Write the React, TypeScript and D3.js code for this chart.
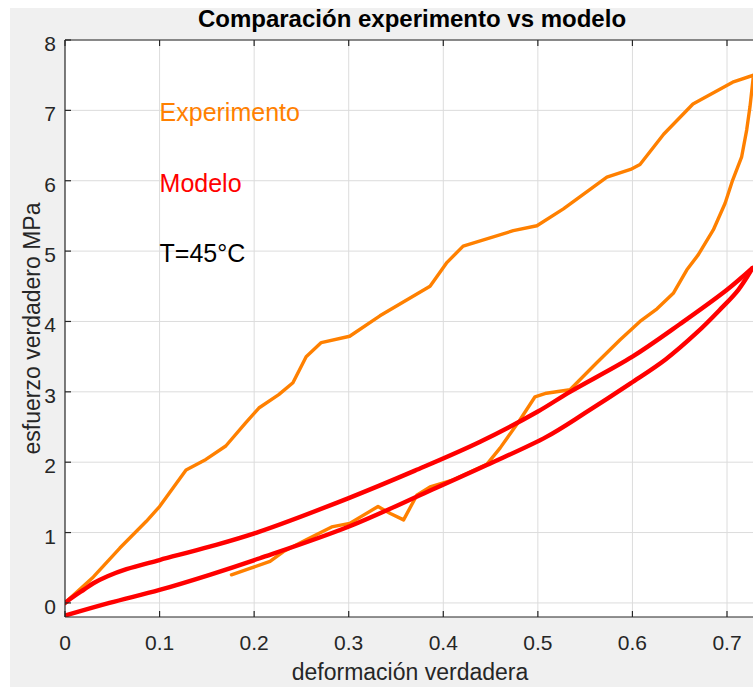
import React from "react";
import * as d3 from "d3";

const xTicks = [0, 0.1, 0.2, 0.3, 0.4, 0.5, 0.6, 0.7];
const yTicks = [0, 1, 2, 3, 4, 5, 6, 7, 8];

// Experimento: loading then unloading
const expX = [0, 0.03, 0.058, 0.086, 0.1, 0.114, 0.128, 0.149, 0.17, 0.191, 0.205, 0.226, 0.241, 0.255, 0.271, 0.301, 0.333, 0.386, 0.404, 0.421, 0.474, 0.499, 0.527, 0.573, 0.598, 0.608, 0.633, 0.664, 0.706, 0.728,
  0.7243, 0.7208, 0.7155, 0.706, 0.698, 0.6855, 0.6697, 0.6574, 0.6432, 0.626, 0.608, 0.587, 0.562, 0.534, 0.509, 0.497, 0.481, 0.46, 0.446, 0.4106, 0.386, 0.372, 0.358, 0.344, 0.331, 0.301, 0.282, 0.2556, 0.231, 0.2168, 0.1956, 0.176];
const expY = [0, 0.37, 0.78, 1.16, 1.37, 1.63, 1.89, 2.04, 2.23, 2.56, 2.77, 2.96, 3.13, 3.5, 3.7, 3.79, 4.08, 4.5, 4.84, 5.07, 5.29, 5.36, 5.6, 6.05, 6.16, 6.23, 6.66, 7.09, 7.4, 7.5,
  7.05, 6.72, 6.34, 6.01, 5.68, 5.3, 4.95, 4.73, 4.4, 4.18, 4.0, 3.74, 3.41, 3.03, 2.98, 2.93, 2.6, 2.2, 1.97, 1.75, 1.65, 1.53, 1.18, 1.27, 1.37, 1.13, 1.08, 0.9, 0.73, 0.59, 0.49, 0.4];

// Modelo: loading branch
const modLoadX = [0, 0.01, 0.02, 0.03, 0.045, 0.065, 0.1, 0.153, 0.205, 0.3, 0.37, 0.439, 0.5, 0.534, 0.6, 0.65, 0.7, 0.727];
const modLoadY = [0, 0.1, 0.19, 0.28, 0.38, 0.48, 0.61, 0.8, 1.01, 1.49, 1.88, 2.29, 2.72, 3.0, 3.5, 3.96, 4.45, 4.76];
// Modelo: unloading branch
const modUnX = [0.727, 0.712, 0.692, 0.668, 0.635, 0.598, 0.55, 0.509, 0.446, 0.38, 0.301, 0.206, 0.153, 0.1, 0.047, 0];
const modUnY = [4.76, 4.45, 4.16, 3.84, 3.46, 3.12, 2.7, 2.36, 1.96, 1.56, 1.09, 0.635, 0.4, 0.185, 0.0, -0.18];

const labels = [
  { text: "Experimento", x: 0.1, y: 7, color: "#ff8000" },
  { text: "Modelo", x: 0.1, y: 6, color: "#ff0000" },
  { text: "T=45°C", x: 0.1, y: 5, color: "#000000" },
];

const W = 753, H = 687;
const left = 65, top = 40, bottom = 617;
const xMax = 0.73;
const pxPerUnit = (727 - 65) / 0.7;

export default function App() {
  const x = d3.scaleLinear().domain([0, xMax]).range([left, left + xMax * pxPerUnit]);
  const y = d3.scaleLinear().domain([-0.2, 8]).range([bottom, top]);
  const right = x(xMax);

  const line = d3.line<[number, number]>().x((d) => x(d[0])).y((d) => y(d[1]));
  const smooth = d3.line<[number, number]>().x((d) => x(d[0])).y((d) => y(d[1])).curve(d3.curveCatmullRom.alpha(0.5));

  const expPts = expX.map((v, i) => [v, expY[i]] as [number, number]);
  const loadPts = modLoadX.map((v, i) => [v, modLoadY[i]] as [number, number]);
  const unPts = modUnX.map((v, i) => [v, modUnY[i]] as [number, number]);

  const font = "'Liberation Sans', Arial, Helvetica, sans-serif";
  const axisColor = "#262626";
  const tickLen = 6;

  return (
    <div style={{ position: "fixed", left: 0, top: 0 }}>
      <svg width={W} height={H} style={{ display: "block" }}>
        <rect x={0} y={0} width={W} height={H} fill="#ffffff" />
        <rect x={10} y={8} width={W - 10} height={H - 8} fill="#f0f0f0" />
        <defs>
          <clipPath id="plotclip">
            <rect x={left} y={top} width={right - left} height={bottom - top} />
          </clipPath>
        </defs>
        <rect x={left} y={top} width={right - left} height={bottom - top} fill="#ffffff" />
        {/* grid */}
        <g stroke="#dcdcdc" strokeWidth={1}>
          {xTicks.filter((t) => t > 0).map((t) => (
            <line key={"gx" + t} x1={x(t)} x2={x(t)} y1={top} y2={bottom} />
          ))}
          {yTicks.map((t) => (
            <line key={"gy" + t} x1={left} x2={right} y1={y(t)} y2={y(t)} />
          ))}
        </g>
        {/* data */}
        <g clipPath="url(#plotclip)" fill="none" strokeLinejoin="round" strokeLinecap="round">
          <path d={line(expPts) || ""} stroke="#ff8000" strokeWidth={3.4} />
          <path d={smooth(loadPts) || ""} stroke="#ff0000" strokeWidth={4.4} />
          <path d={smooth(unPts) || ""} stroke="#ff0000" strokeWidth={4.4} />
        </g>
        {/* axes */}
        <g stroke={axisColor} strokeWidth={1.2}>
          <line x1={left} x2={left} y1={top} y2={bottom} />
          <line x1={left} x2={right} y1={bottom} y2={bottom} />
          <line x1={left} x2={right} y1={top} y2={top} />
          {xTicks.map((t) => (
            <g key={"tx" + t}>
              <line x1={x(t)} x2={x(t)} y1={bottom} y2={bottom - tickLen} />
              <line x1={x(t)} x2={x(t)} y1={top} y2={top + tickLen} />
            </g>
          ))}
          {yTicks.map((t) => (
            <line key={"ty" + t} x1={left} x2={left + tickLen} y1={y(t)} y2={y(t)} />
          ))}
        </g>
        {/* tick labels */}
        <g fontFamily={font} fontSize={21} fill={axisColor}>
          {xTicks.map((t) => (
            <text key={"lx" + t} x={x(t)} y={650} textAnchor="middle">{d3.format("")(t)}</text>
          ))}
          {yTicks.map((t) => (
            <text key={"ly" + t} x={56} y={y(t) + 11} textAnchor="end">{t}</text>
          ))}
        </g>
        {/* annotations */}
        <g fontFamily={font} fontSize={25}>
          {labels.map((l) => (
            <text key={l.text} x={x(l.x)} y={y(l.y) + 11} fill={l.color}>{l.text}</text>
          ))}
        </g>
        {/* title and axis labels */}
        <text x={412} y={27} textAnchor="middle" fontFamily={font} fontSize={24} fontWeight="bold" fill="#000">
          Comparación experimento vs modelo
        </text>
        <text x={410} y={680} textAnchor="middle" fontFamily={font} fontSize={23} fill={axisColor}>
          deformación verdadera
        </text>
        <text transform={`translate(40,${(top + bottom) / 2}) rotate(-90)`} textAnchor="middle" fontFamily={font} fontSize={23} fill={axisColor}>
          esfuerzo verdadero MPa
        </text>
      </svg>
    </div>
  );
}
